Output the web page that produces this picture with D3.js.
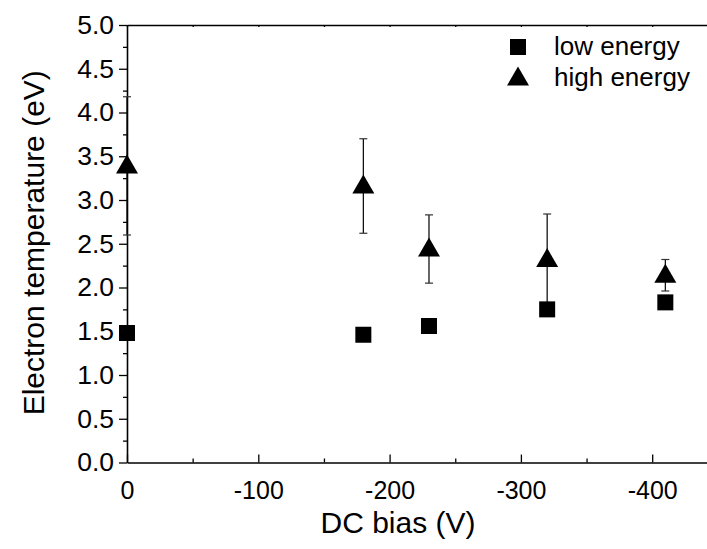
<!DOCTYPE html>
<html>
<head>
<meta charset="utf-8">
<script src="https://cdn.jsdelivr.net/npm/d3@7"></script>
<style>
  html, body { margin: 0; padding: 0; background: #fff; }
  svg { display: block; font-family: "Liberation Sans", Arial, sans-serif; }
</style>
</head>
<body>
<svg id="chart" width="707" height="549"></svg>
<script>
// ---- data ----
const bias = [0, -180, -230, -320, -410];
const lowEnergy = [1.48, 1.46, 1.56, 1.75, 1.83];
const highEnergy = [3.39, 3.16, 2.44, 2.32, 2.14];
const highErr = [0.79, 0.54, 0.39, 0.52, 0.18];
const xTicks = [0, -100, -200, -300, -400];
const xMinorTicks = [-50, -150, -250, -350, -450];
const yTicks = [0, 0.5, 1, 1.5, 2, 2.5, 3, 3.5, 4, 4.5, 5];
const yMinorTicks = [0.25, 0.75, 1.25, 1.75, 2.25, 2.75, 3.25, 3.75, 4.25, 4.75];
const seriesNames = ["low energy", "high energy"];
const xTitle = "DC bias (V)";
const yTitle = "Electron temperature (eV)";

// ---- layout ----
const FONT = "'Liberation Sans', Arial, sans-serif";
const svg = d3.select("#chart");
const x0 = 127, yTop = 25, yBot = 462.5;
const x = d3.scaleLinear().domain([0, -450]).range([x0, x0 + 450 * 1.313]);
const y = d3.scaleLinear().domain([0, 5]).range([yBot, yTop]);

// bottom axis (ticks inward)
const gx = svg.append("g").attr("transform", `translate(0,${yBot})`)
  .call(d3.axisBottom(x).tickValues(xTicks).tickSize(-8).tickSizeOuter(0)
        .tickPadding(19).tickFormat(d => String(d)));
svg.append("g").attr("transform", `translate(0,${yBot})`)
  .call(d3.axisBottom(x).tickValues(xMinorTicks).tickSize(-4).tickSizeOuter(0).tickFormat(""))
  .select(".domain").remove();
gx.selectAll("text").attr("font-size", 25).attr("font-family", FONT).attr("dy", "0.71em");

// top axis line with tiny ticks
svg.append("g").attr("transform", `translate(0,${yTop})`)
  .call(d3.axisTop(x).tickValues(xTicks.concat(xMinorTicks)).tickSize(-2).tickSizeOuter(0).tickFormat(""));

// left axis (ticks outward)
const gy = svg.append("g").attr("transform", `translate(${x0},0)`)
  .call(d3.axisLeft(y).tickValues(yTicks).tickSize(8).tickSizeOuter(0)
        .tickPadding(5).tickFormat(d3.format(".1f")));
svg.append("g").attr("transform", `translate(${x0},0)`)
  .call(d3.axisLeft(y).tickValues(yMinorTicks).tickSize(4).tickSizeOuter(0).tickFormat(""))
  .select(".domain").remove();
gy.selectAll("text").attr("font-size", 26.5).attr("font-family", FONT);

svg.selectAll(".domain").attr("stroke", "#000").attr("stroke-width", 1.6);
svg.selectAll(".tick line").attr("stroke", "#000").attr("stroke-width", 1.3);
svg.selectAll(".tick text").attr("fill", "#000");

// axis titles
svg.append("text").attr("x", 398).attr("y", 533).attr("text-anchor", "middle")
  .attr("font-family", FONT).attr("font-size", 30).attr("fill", "#000").text(xTitle);
svg.append("text").attr("transform", `translate(44,${(yTop + yBot) / 2 - 1}) rotate(-90)`)
  .attr("text-anchor", "middle").attr("font-family", FONT).attr("font-size", 30).attr("fill", "#000").text(yTitle);

// data
const pts = bias.map((b, i) => ({ b, lo: lowEnergy[i], hi: highEnergy[i], err: highErr[i] }));

// error bars (high energy)
const eb = svg.append("g").attr("stroke", "#000").attr("stroke-width", 1.2);
pts.forEach(p => {
  const cx = x(p.b);
  eb.append("line").attr("x1", cx).attr("x2", cx).attr("y1", y(p.hi + p.err)).attr("y2", y(p.hi - p.err));
  eb.append("line").attr("x1", cx - 4).attr("x2", cx + 4).attr("y1", y(p.hi + p.err)).attr("y2", y(p.hi + p.err)).attr("stroke", "#333");
  eb.append("line").attr("x1", cx - 4).attr("x2", cx + 4).attr("y1", y(p.hi - p.err)).attr("y2", y(p.hi - p.err)).attr("stroke", "#333");
});

const sq = 16;
function triPath(cx, cy) {
  const w = 22, h = 19;
  return `M${cx},${cy - h * 0.6}L${cx + w / 2},${cy + h * 0.4}L${cx - w / 2},${cy + h * 0.4}Z`;
}

svg.append("g").selectAll("rect").data(pts).join("rect")
  .attr("x", d => x(d.b) - sq / 2).attr("y", d => y(d.lo) - sq / 2)
  .attr("width", sq).attr("height", sq).attr("fill", "#000");

svg.append("g").selectAll("path").data(pts).join("path")
  .attr("d", d => triPath(x(d.b), y(d.hi))).attr("fill", "#000");

// legend
const lg = svg.append("g");
lg.append("rect").attr("x", 518 - sq / 2).attr("y", 47 - sq / 2).attr("width", sq).attr("height", sq).attr("fill", "#000");
lg.append("path").attr("d", triPath(518, 78)).attr("fill", "#000");
lg.append("text").attr("x", 554).attr("y", 55).attr("font-family", FONT).attr("font-size", 26).attr("fill", "#000").text(seriesNames[0]);
lg.append("text").attr("x", 554).attr("y", 86).attr("font-family", FONT).attr("font-size", 26).attr("fill", "#000").text(seriesNames[1]);
</script>
</body>
</html>
